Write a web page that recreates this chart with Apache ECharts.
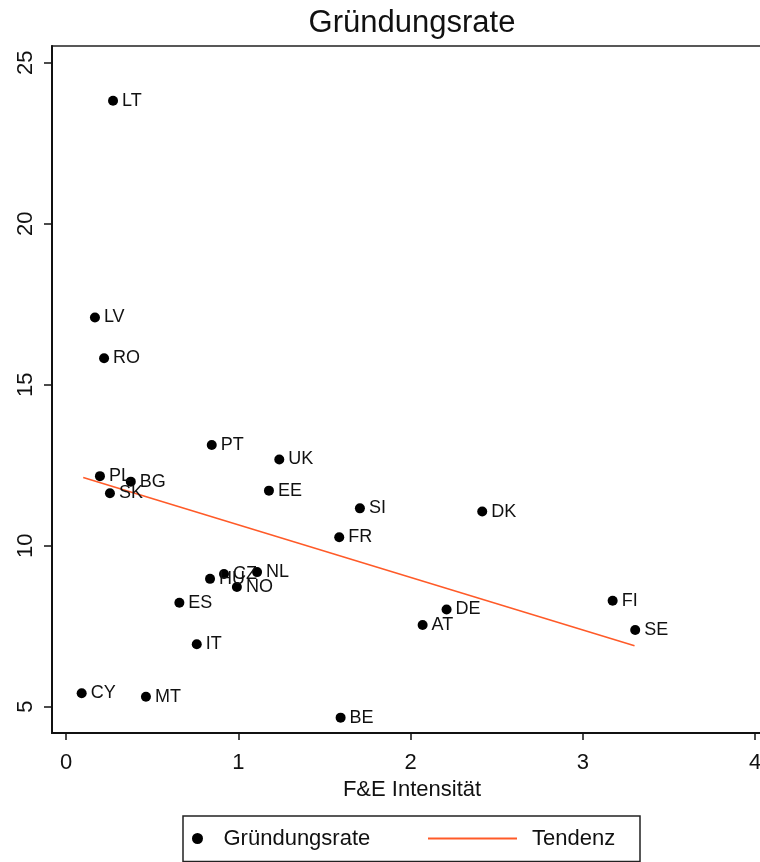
<!DOCTYPE html>
<html>
<head>
<meta charset="utf-8">
<script src="https://cdn.jsdelivr.net/npm/echarts@6/dist/echarts.min.js"></script>
<style>
html,body{margin:0;padding:0;background:#fff;}
#chart{width:760px;height:862px;}
</style>
</head>
<body>
<div id="chart"></div>
<script>
// ---- data ----
const countries = ['LT','LV','RO','PT','UK','PL','BG','SK','EE','SI','DK','FR','HU','CZ','NL','NO','ES','IT','FI','SE','DE','AT','CY','MT','BE'];
const rdIntensity = [0.273,0.168,0.221,0.846,1.238,0.197,0.376,0.255,1.178,1.706,2.416,1.586,0.836,0.917,1.109,0.992,0.658,0.759,3.173,3.304,2.209,2.070,0.091,0.464,1.594];
const foundingRate = [23.82,17.09,15.82,13.13,12.68,12.16,11.99,11.63,11.71,11.16,11.06,10.26,8.97,9.12,9.18,8.72,8.23,6.94,8.29,7.38,8.02,7.54,5.42,5.31,4.66];
const trendX = [0.10, 3.30];
const trendY = [12.12, 6.89];
const xTicks = [0,1,2,3,4];
const yTicks = [5,10,15,20,25];
const titleText = 'Gründungsrate';
const xAxisName = 'F&E Intensität';
const seriesNames = ['Gründungsrate','Tendenz'];

const FONT = 'Liberation Sans, Arial, sans-serif';
const TXT = '#111';

const scatterData = countries.map((c,i)=>({name:c, value:[rdIntensity[i], foundingRate[i]]}));
const trendData = trendX.map((x,i)=>[x, trendY[i]]);

const chart = echarts.init(document.getElementById('chart'), null, {renderer:'canvas'});
chart.setOption({
  backgroundColor:'#fff',
  animation:false,
  title:{
    text:titleText, left:412, top:8, textAlign:'center', padding:0,
    textStyle:{fontFamily:FONT, fontSize:31, fontWeight:'normal', color:TXT}
  },
  grid:{
    left:52, width:720, top:46, bottom:129,
    outerBoundsMode:'none', containLabel:false,
    show:true, borderColor:'#222', borderWidth:1.5, backgroundColor:'transparent'
  },
  xAxis:{
    type:'value', min:-0.0813, max:4.098,
    name:xAxisName, nameLocation:'middle', nameGap:42,
    nameTextStyle:{fontFamily:FONT, fontSize:22, color:TXT},
    axisLine:{show:true, onZero:false, lineStyle:{color:'#111', width:2}},
    axisTick:{show:true, inside:false, length:7, customValues:xTicks, lineStyle:{color:'#111', width:1.5}},
    axisLabel:{customValues:xTicks, margin:19, fontFamily:FONT, fontSize:22, color:TXT},
    splitLine:{show:false}
  },
  yAxis:{
    type:'value', min:4.183, max:25.52,
    axisLine:{show:true, onZero:false, lineStyle:{color:'#111', width:2}},
    axisTick:{show:true, inside:false, length:8, customValues:yTicks, lineStyle:{color:'#111', width:1.5}},
    axisLabel:{customValues:yTicks, rotate:90, margin:15, fontFamily:FONT, fontSize:22, color:TXT},
    splitLine:{show:false}
  },
  legend:[
    {
      data:[{name:seriesNames[0], icon:'circle'}],
      left:192, top:825, padding:0, itemWidth:42, itemHeight:11,
      textStyle:{fontFamily:FONT, fontSize:22, color:TXT, lineHeight:27},
      selectedMode:false
    },
    {
      data:[{name:seriesNames[1], icon:'rect'}],
      left:428, top:825, padding:0, itemWidth:89, itemHeight:2,
      textStyle:{fontFamily:FONT, fontSize:22, color:TXT, lineHeight:27, padding:[0,0,0,10]},
      selectedMode:false
    }
  ],
  graphic:[{
    type:'rect', shape:{x:183, y:816, width:457, height:45.5},
    style:{fill:'none', stroke:'#222', lineWidth:1.5}, silent:true
  }],
  series:[
    {
      name:seriesNames[1], type:'line', data:trendData, symbol:'none', z:2,
      lineStyle:{color:'#ff5a28', width:1.5}, itemStyle:{color:'#ff5a28'}
    },
    {
      name:seriesNames[0], type:'scatter', data:scatterData, symbol:'circle', symbolSize:10, z:3,
      itemStyle:{color:'#000', opacity:1},
      label:{show:true, position:'right', distance:4, formatter:p=>p.name,
             fontFamily:FONT, fontSize:18, color:TXT}
    }
  ]
});
</script>
</body>
</html>
